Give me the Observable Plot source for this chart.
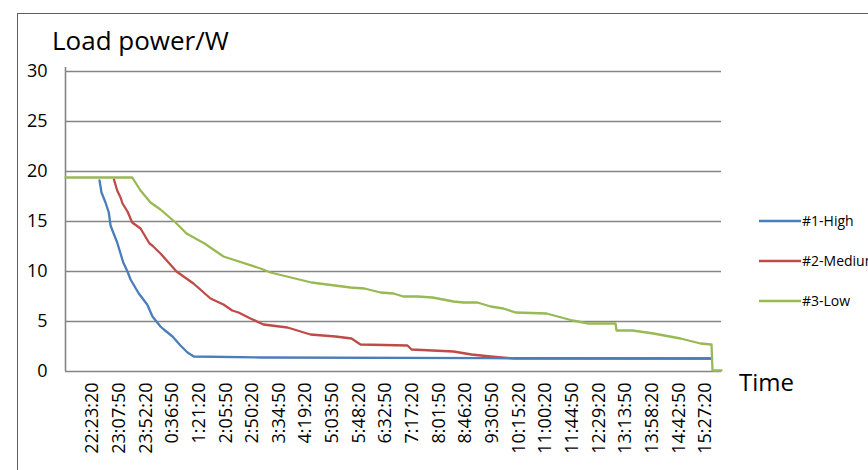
<!DOCTYPE html>
<html><head><meta charset="utf-8">
<script src="https://cdn.jsdelivr.net/npm/d3@7"></script>
<script src="https://cdn.jsdelivr.net/npm/@observablehq/plot@0.6"></script>
<style>
body{margin:0;background:#fff;}
#wrap{position:relative;width:868px;height:470px;overflow:hidden;font-family:"Open Sans",sans-serif;}
#frame{position:absolute;left:17px;top:13px;width:900px;height:500px;border:1px solid #5f5f5f;box-sizing:border-box;}
#chart,#over{position:absolute;left:0;top:0;}
</style></head><body>
<div id="wrap"><div id="frame"></div><div id="chart"></div><svg id="over" width="868" height="470"></svg></div>
<script>
// Tick labels (category labels on the time axis), one every 44.5 minutes
const tickLabels = ["22:23:20","23:07:50","23:52:20","0:36:50","1:21:20","2:05:50","2:50:20","3:34:50","4:19:20","5:03:50","5:48:20","6:32:50","7:17:20","8:01:50","8:46:20","9:30:50","10:15:20","11:00:20","11:44:50","12:29:20","13:13:50","13:58:20","14:42:50","15:27:20"];
const tickStep = 44.5; // minutes between labels
const yTicks = [0, 5, 10, 15, 20, 25, 30];
const xStart = -45.1, xEnd = 1050.3; // minutes relative to 22:23:20

// Series: time (minutes since 22:23:20) and load power (W)
const seriesNames = ["#1-High", "#2-Medium", "#3-Low"];
const seriesColors = ["#4A7EBB", "#BE4B48", "#98B954"];

const highT = [11.7, 15.0, 21.7, 27.2, 30.1, 34.6, 41.2, 51.3, 58.4, 63.5, 77.3, 91.3, 100.2, 113.5, 119.1, 133.6, 146.9, 158.6, 169.2, 280.5, 664.6, 1034.5];
const highW = [19.1, 17.9, 16.9, 15.9, 14.6, 13.9, 12.9, 10.9, 10.0, 9.2, 7.8, 6.7, 5.5, 4.5, 4.2, 3.5, 2.6, 1.9, 1.5, 1.4, 1.33, 1.3];

const medT = [35.9, 41.2, 46.8, 50.1, 58.4, 66.3, 80.2, 95.2, 99.7, 113.5, 140.3, 168.6, 197.0, 218.7, 233.3, 243.8, 263.8, 285.5, 325.6, 364.0, 405.8, 432.5, 447.5, 526.0, 532.7, 602.8, 632.9, 664.6, 703.0, 1034.5];
const medW = [19.2, 18.1, 17.4, 16.8, 16.0, 14.9, 14.3, 12.8, 12.6, 11.8, 10.0, 8.8, 7.3, 6.7, 6.1, 5.9, 5.3, 4.7, 4.4, 3.7, 3.5, 3.3, 2.7, 2.6, 2.2, 2.0, 1.7, 1.5, 1.3, 1.3];

const lowT = [-45.1, 66.3, 80.2, 96.8, 113.5, 138.6, 157.0, 187.0, 218.7, 280.5, 297.2, 365.7, 430.8, 454.2, 480.9, 502.6, 519.3, 542.7, 567.7, 602.8, 619.5, 642.9, 664.6, 686.3, 706.3, 758.1, 783.1, 801.5, 828.2, 873.3, 875.0, 901.7, 936.8, 981.9, 1015.3, 1033.6, 1035.3, 1050.3];
const lowW = [19.4, 19.4, 18.1, 16.9, 16.2, 14.9, 13.8, 12.8, 11.5, 10.3, 9.9, 8.9, 8.4, 8.3, 7.9, 7.8, 7.5, 7.5, 7.4, 7.0, 6.9, 6.9, 6.5, 6.3, 5.9, 5.8, 5.4, 5.1, 4.8, 4.8, 4.1, 4.1, 3.8, 3.3, 2.8, 2.7, 0.1, 0.1];

const toRows = (T, W, name) => T.map((t, i) => ({t, w: W[i], name}));
const rows = [
  ...toRows(medT, medW, seriesNames[1]),
  ...toRows(highT, highW, seriesNames[0]),
  ...toRows(lowT, lowW, seriesNames[2])
];
const tickPos = tickLabels.map((_, i) => i * tickStep);
const labelAt = new Map(tickPos.map((p, i) => [p, tickLabels[i]]));

const chart = Plot.plot({
  width: 868, height: 470,
  marginLeft: 65, marginRight: 147, marginTop: 71, marginBottom: 99,
  style: {fontFamily: '"Open Sans", sans-serif', fontSize: "18px", color: "#000", background: "transparent", overflow: "visible"},
  x: {domain: [xStart, xEnd]},
  y: {domain: [0, 30]},
  color: {domain: seriesNames, range: seriesColors},
  marks: [
    Plot.ruleY(yTicks, {stroke: "#858585", strokeWidth: 1.4, strokeOpacity: 1}),
    Plot.ruleX([xStart], {y1: 0, y2: 30.4, stroke: "#858585", strokeWidth: 1.6, strokeOpacity: 1}),
    Plot.axisY({ticks: yTicks, tickSize: 0, tickPadding: 18, label: null}),
    Plot.axisX({ticks: tickPos, tickFormat: d => labelAt.get(d), tickRotate: -90, tickSize: 0, tickPadding: 11, label: null}),
    Plot.line(rows, {x: "t", y: "w", z: "name", stroke: "name", strokeWidth: 2.3, strokeLinejoin: "round"})
  ]
});
document.getElementById("chart").appendChild(chart);

// Annotations: axis titles and legend
const over = d3.select("#over").style("font-family", '"Open Sans", sans-serif');
over.append("text").attr("x", 52).attr("y", 50).attr("font-size", 26).text("Load power/W");
over.append("text").attr("x", 739).attr("y", 391).attr("font-size", 24).text("Time");
const lg = over.selectAll("g.lg").data(seriesNames).join("g").attr("transform", (d, i) => `translate(759,${221 + i * 40})`);
lg.append("line").attr("x1", 0).attr("x2", 42).attr("stroke", (d, i) => seriesColors[i]).attr("stroke-width", 2.3);
lg.append("text").attr("x", 43).attr("y", 5).attr("font-size", 14).text(d => d);
</script>
</body></html>
